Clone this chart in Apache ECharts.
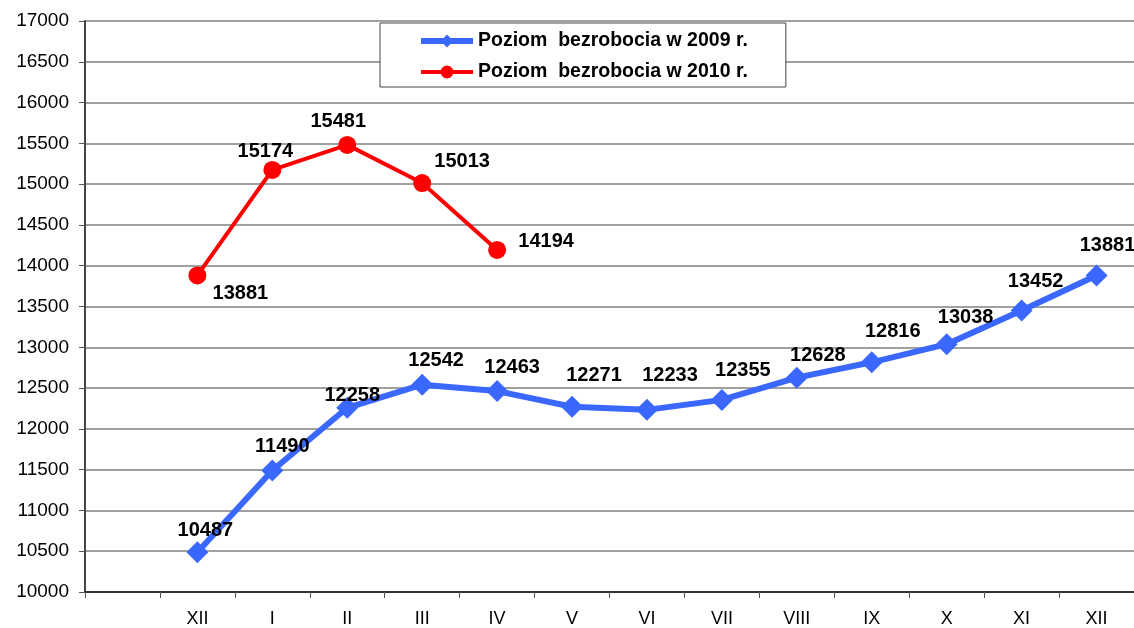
<!DOCTYPE html>
<html><head><meta charset="utf-8">
<script src="https://cdn.jsdelivr.net/npm/echarts@6/dist/echarts.min.js"></script>
<style>html,body{margin:0;padding:0;background:#fff}#c{width:1134px;height:628px}</style>
</head><body><div id="c"></div>
<script>
const categories = ['', 'XII', 'I', 'II', 'III', 'IV', 'V', 'VI', 'VII', 'VIII', 'IX', 'X', 'XI', 'XII'];
const series2009Name = 'Poziom  bezrobocia w 2009 r.';
const series2010Name = 'Poziom  bezrobocia w 2010 r.';
const values2009 = [null, 10487, 11490, 12258, 12542, 12463, 12271, 12233, 12355, 12628, 12816, 13038, 13452, 13881];
const values2010 = [null, 13881, 15174, 15481, 15013, 14194, null, null, null, null, null, null, null, null];

const offsets2009 = [null, [8,-22],[10,-24],[5,-12],[14,-24],[15,-24],[22,-31],[23,-34],[21,-29],[21,-22],[21,-31],[19,-27],[14,-29],[11,-30]];
const offsets2010 = [null, [43,18],[-7,-18],[-9,-23],[40,-22],[49,-8]];

function build(vals, offs) {
  return vals.map((v, i) => v == null ? null : ({
    value: v,
    label: { offset: offs[i] || [0,0] }
  }));
}
const FONT = 'Liberation Sans, Arial, sans-serif';
const labelStyle = { show: true, position: 'inside', color: '#000', fontFamily: FONT, fontWeight: 'bold', fontSize: 20 };
const BLUE = '#3a68ff', RED = '#ff0000';

const chart = echarts.init(document.getElementById('c'), null, { renderer: 'canvas' });
chart.setOption({
  animation: false,
  backgroundColor: '#fff',
  grid: { left: 85, right: 0, top: 21, bottom: 35, containLabel: false },
  legend: {
    orient: 'vertical', left: 380, top: 23,
    padding: [8, 38, 5, 38], itemGap: 11, itemWidth: 52, itemHeight: 16,
    backgroundColor: '#fff', borderColor: '#444', borderWidth: 1,
    textStyle: { fontFamily: FONT, fontWeight: 'bold', fontSize: 19.5, color: '#000' },
    data: [
      { name: series2009Name, lineStyle: { width: 6, color: BLUE } },
      { name: series2010Name, lineStyle: { width: 4, color: RED } }
    ]
  },
  xAxis: {
    type: 'category', data: categories, boundaryGap: true,
    axisLine: { lineStyle: { color: '#333', width: 2 } },
    axisTick: { show: true, alignWithLabel: false, length: 6, lineStyle: { color: '#555', width: 1 } },
    axisLabel: { color: '#000', fontFamily: FONT, fontSize: 18, margin: 18, interval: 0 },
    splitLine: { show: false }
  },
  yAxis: {
    type: 'value', min: 10000, max: 17000, interval: 500,
    axisLine: { show: true, lineStyle: { color: '#444', width: 2 } },
    axisTick: { show: true, length: 6, lineStyle: { color: '#555' } },
    axisLabel: { color: '#000', fontFamily: FONT, fontSize: 19, margin: 16, formatter: v => String(v) },
    splitLine: { show: true, lineStyle: { color: '#808080', width: 1.5 } }
  },
  series: [
    {
      name: series2009Name, type: 'line', data: build(values2009, offsets2009),
      color: BLUE, symbol: 'diamond', symbolSize: 22, showAllSymbol: true,
      lineStyle: { width: 6, color: BLUE }, itemStyle: { color: BLUE },
      label: labelStyle, z: 3
    },
    {
      name: series2010Name, type: 'line', data: build(values2010, offsets2010),
      color: RED, symbol: 'circle', symbolSize: 18, showAllSymbol: true,
      lineStyle: { width: 4, color: RED }, itemStyle: { color: RED },
      label: labelStyle, z: 4
    }
  ]
});
</script>
</body></html>
